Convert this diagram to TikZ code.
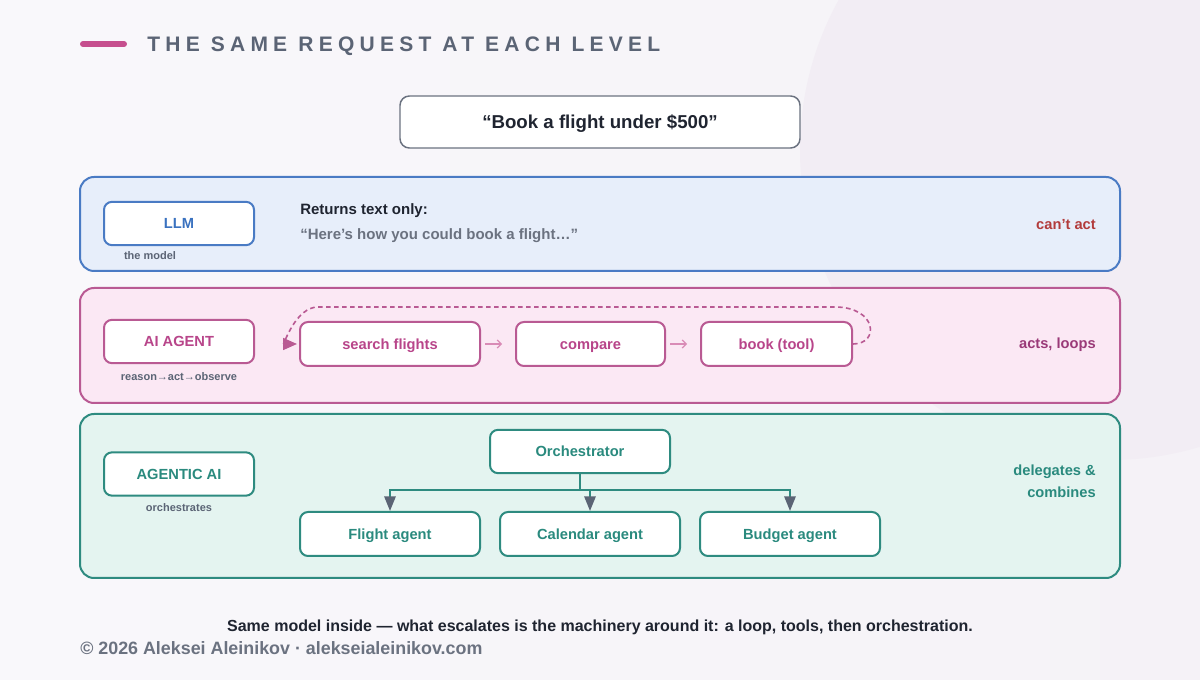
\documentclass[tikz,border=0pt]{standalone}
\usepackage{fontspec}
\setmainfont{Liberation Sans}
\newfontfamily\titlefont[LetterSpace=25]{Liberation Sans}
\usetikzlibrary{arrows.meta,positioning}

\definecolor{bgleft}{HTML}{F9F8FB}
\definecolor{bgright}{HTML}{F5F2F7}
\definecolor{bgcircle}{HTML}{F2EDF4}
\definecolor{slate}{HTML}{5B6475}
\definecolor{ink}{HTML}{1F2430}
\definecolor{muted}{HTML}{6B7280}
\definecolor{accent}{HTML}{C64F8E}
\definecolor{llmline}{HTML}{4A7BC4}
\definecolor{llmfill}{HTML}{E7EEFA}
\definecolor{llmtext}{HTML}{3A72C0}
\definecolor{cantred}{HTML}{B23B3B}
\definecolor{agentline}{HTML}{B95A93}
\definecolor{agentfill}{HTML}{FBE8F4}
\definecolor{agenttext}{HTML}{B8458A}
\definecolor{agentdark}{HTML}{9A3A78}
\definecolor{agentsoft}{HTML}{D98BB6}
\definecolor{orchline}{HTML}{2E8B80}
\definecolor{orchfill}{HTML}{E4F4F0}
\definecolor{orchtext}{HTML}{2A8A7E}

\begin{document}
\begin{tikzpicture}[x=0.75pt, y=-0.75pt, font=\bfseries,
    panel/.style={line width=1.5pt, rounded corners=10.5pt},
    lvlbox/.style={draw, fill=white, line width=1.5pt, rounded corners=6pt, inner sep=0pt,
        minimum width=112.5pt, minimum height=32.5pt, text height=7.9pt, text depth=0pt,
        font=\fontsize{11}{13}\selectfont\bfseries},
    stepbox/.style={lvlbox, draw=agentline, text=agenttext, minimum width=135pt, minimum height=33pt},
    subbox/.style={lvlbox, draw=orchline, text=orchtext, minimum width=135pt, minimum height=33pt},
    undertext/.style={text=slate, font=\fontsize{8.25}{10}\selectfont\bfseries},
    sidetext/.style={anchor=base east, align=right, inner sep=0pt, font=\fontsize{11}{16.5}\selectfont\bfseries},
    steparrow/.style={draw=agentsoft, line width=0.9pt, shorten <=3pt, shorten >=9.75pt,
        -{Straight Barb[length=3pt,width=6pt]}},
    loopline/.style={draw=agentline, line width=1.2pt, dash pattern=on 3.5pt off 2.5pt,
        -{Triangle[length=10.5pt,width=9pt,fill=agentline]}},
    fanline/.style={draw=orchline, line width=1.5pt},
    fanarrow/.style={fanline, -{Triangle[length=11pt,width=8.5pt,color=slate,fill=slate]}}
    ]

    \useasboundingbox (0,0) rectangle (1200,680);

    \begin{scope}
        \clip (0,0) rectangle (1200,680);
        \shade[left color=bgleft, right color=bgright] (0,0) rectangle (1200,680);
        \fill[bgcircle] (1110,150) circle (310);
    \end{scope}

    \draw[accent, line width=4.5pt, line cap=round] (83,44) -- (124,44);
    \node[anchor=base west, inner sep=0pt, text=slate, font=\titlefont\fontsize{15.75}{18}\selectfont\bfseries]
        (title) at (147,52) {THE SAME REQUEST AT EACH LEVEL};

    \node[draw=muted, fill=white, line width=1.1pt, rounded corners=7pt, minimum width=300pt,
        minimum height=39pt, text height=10pt, text depth=0pt, text=ink,
        font=\fontsize{14}{16}\selectfont\bfseries]
        (request) at (600,122) {“Book a flight under \$500”};

    \draw[panel, draw=llmline, fill=llmfill] (80,177) rectangle (1120,271);

    \node[lvlbox, draw=llmline, text=llmtext] (llm) at (179,223.5) {LLM};
    \node[undertext] (llmsub) at (150,256) {the model};
    \node[anchor=base west, inner sep=0pt, text=ink, font=\fontsize{11.25}{13}\selectfont\bfseries]
        (returns) at (300,215) {Returns text only:};
    \node[anchor=base west, inner sep=0pt, text=muted, font=\fontsize{11.25}{13}\selectfont\bfseries]
        (quote) at (300,240) {“Here’s how you could book a flight…”};
    \node[sidetext, text=cantred] (cant) at (1096,229.5) {can’t act};

    \draw[panel, draw=agentline, fill=agentfill] (80,288) rectangle (1120,403);

    \node[lvlbox, draw=agentline, text=agenttext] (agent) at (179,341.5) {AI AGENT};
    \node[undertext] (agentsub) at (179,377) {reason→act→observe};
    \node[stepbox] (search) at (390,344) {search flights};
    \node[stepbox, minimum width=111.75pt, right=25.5pt of search] (compare) {compare};
    \node[stepbox, minimum width=113.25pt, right=25.5pt of compare] (book) {book (tool)};

    \draw[steparrow] (search) -- (compare);
    \draw[steparrow] (compare) -- (book);
    \draw[loopline] (book.east) .. controls (880,344) and (877,307) .. (835,307)
        -- (318,307) .. controls (296,307) and (284,344) .. ([xshift=-1.5pt]search.west);

    \node[sidetext, text=agentdark] (acts) at (1096,348.5) {acts, loops};

    \draw[panel, draw=orchline, fill=orchfill] (80,414) rectangle (1120,578);

    \node[lvlbox, draw=orchline, text=orchtext] (agentic) at (179,474) {AGENTIC AI};
    \node[undertext] (agenticsub) at (179,508) {orchestrates};
    \node[subbox, minimum height=32.5pt] (orch) at (580,451.5) {Orchestrator};
    \node[subbox] (flight) at (390,534) {Flight agent};
    \node[subbox, right=13.5pt of flight] (calendar) {Calendar agent};
    \node[subbox, right=13.5pt of calendar] (budget) {Budget agent};

    \coordinate (split) at (580,490);
    \draw[fanline] (orch) -- (split);
    \draw[fanarrow] (split) -| (flight);
    \draw[fanarrow] (split) -| (calendar);
    \draw[fanarrow] (split) -| (budget);

    \node[sidetext, text=orchtext] (deleg) at (1096,497.5) {delegates \&\\combines};

    \node[anchor=base, inner sep=0pt, text=ink, font=\fontsize{12}{14}\selectfont\bfseries]
        (summary) at (600,632) {Same model inside — what escalates is the machinery around it: a loop, tools, then orchestration.};
    \node[anchor=base west, inner sep=0pt, text=muted, font=\fontsize{13.4}{15}\selectfont\bfseries]
        (credit) at (80,654) {© 2026 Aleksei Aleinikov · alekseialeinikov.com};

\end{tikzpicture}
\end{document}
